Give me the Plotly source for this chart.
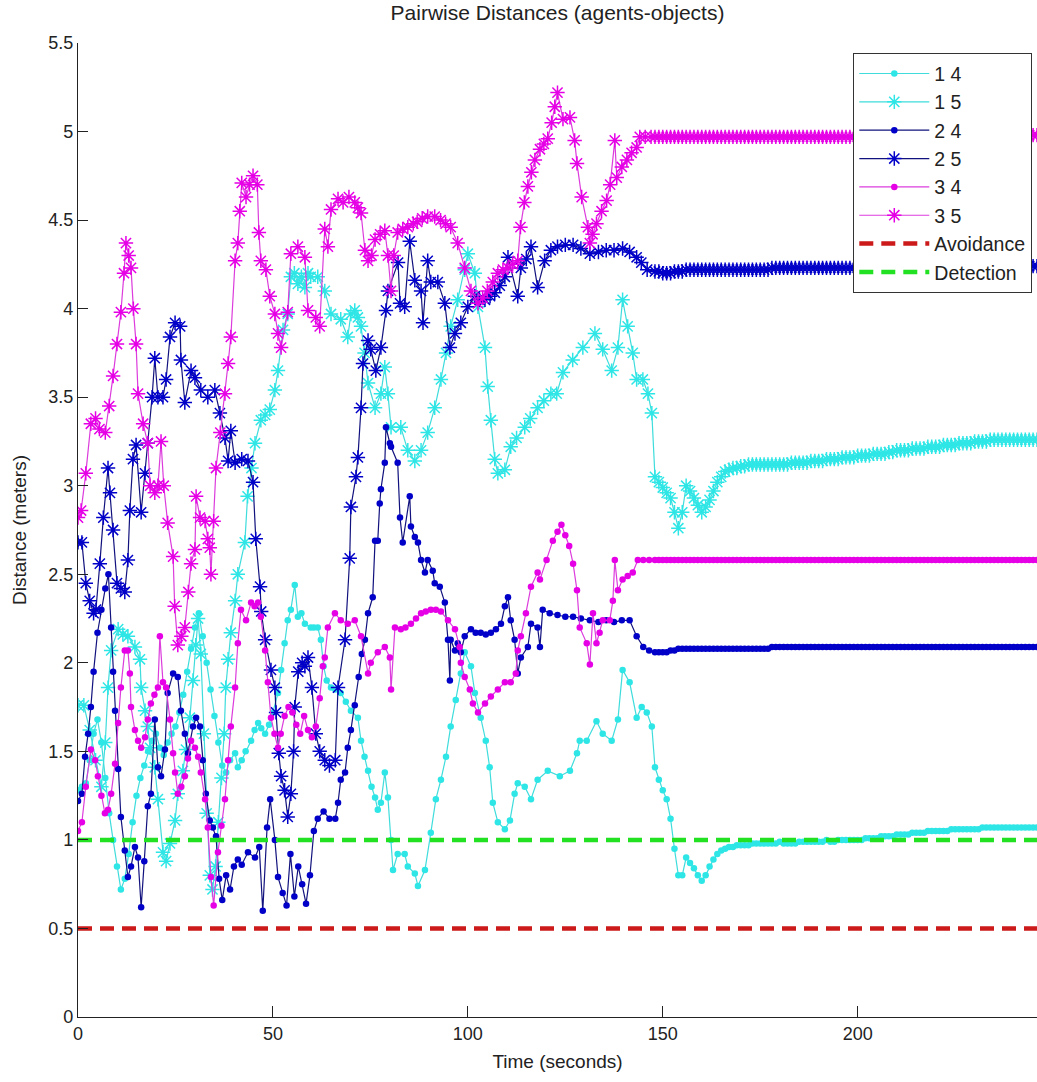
import plotly.graph_objects as go

# ---------------- data ----------------
t14 = [0, 1.0, 2.0, 3.0, 4.0, 5.0, 6.0, 7.0, 8.0, 9.0, 10.0, 11.0, 12.0, 13.0, 14.0, 15.0, 16.0, 17.0, 18.0, 19.0,
       20.0, 21.0, 22.0, 23.0, 24.0, 25.0, 26.0, 27.0, 28.0, 29.0, 30.0, 31.0, 32.0, 33.0, 34.0, 35.0, 36.0, 37.0, 38.0, 39.0,
       40.3, 41.0, 42.0, 43.0, 44.4, 45.3, 46.2, 47.0, 48.0, 49.0, 50.0, 51.3, 52.1, 53.0, 53.8, 54.6, 55.6, 56.4, 57.3, 58.2,
       59.7, 60.5, 61.5, 62.3, 63.0, 63.8, 64.9, 66.0, 67.4, 68.7, 70.0, 71.8, 72.6, 73.5, 74.4, 75.3, 76.2, 76.9, 77.7, 78.7,
       79.5, 80.3, 80.8, 82.0, 83.8, 84.6, 86.4, 87.2, 89.0, 90.5, 91.8, 93.1, 94.4, 95.6, 96.9, 98.2, 99.2, 100.8, 101.8, 103.3,
       104.6, 105.6, 106.4, 107.7, 109.5, 110.8, 112.0, 112.8, 114.6, 116.2, 117.9, 120.5, 123.6, 126.2, 128.0, 128.7, 130.5, 133.0, 134.6, 136.9,
       138.5, 139.7, 141.5, 143.3, 144.6, 145.9, 147.2]
d14 = [1.28, 1.30, 1.32, 1.45, 1.60, 1.68, 1.55, 1.35, 1.15, 1.00, 0.85, 0.72, 0.78, 0.92, 1.10, 1.25, 1.35, 1.42, 1.50, 1.56,
       1.60, 1.52, 1.48, 1.55, 1.60, 1.64, 1.72, 1.82, 1.95, 2.08, 2.20, 2.28, 2.15, 2.00, 1.85, 1.70, 1.55, 1.42, 1.38, 1.45,
       1.49, 1.41, 1.45, 1.50, 1.56, 1.62, 1.66, 1.63, 1.60, 1.65, 1.72, 1.83, 1.96, 2.11, 2.24, 2.30, 2.44, 2.26, 2.28, 2.22,
       2.20, 2.20, 2.20, 2.13, 1.98, 1.90, 1.86, 1.85, 1.83, 1.78, 1.73, 1.69, 1.56, 1.47, 1.39, 1.30, 1.24, 1.17, 1.21, 1.38,
       1.24, 1.00, 0.83, 0.92, 0.92, 0.85, 0.81, 0.74, 0.83, 1.04, 1.23, 1.34, 1.47, 1.64, 1.79, 1.94, 2.06, 1.98, 1.83, 1.69,
       1.56, 1.41, 1.21, 1.10, 1.06, 1.11, 1.26, 1.32, 1.30, 1.23, 1.34, 1.39, 1.36, 1.39, 1.49, 1.56, 1.56, 1.67, 1.60, 1.56,
       1.68, 1.96, 1.89, 1.69, 1.75, 1.72, 1.64]

t15 = [0, 1.5, 3.0, 4.5, 6.0, 7.0, 7.7, 8.5, 10.3, 11.5, 12.8, 14.6, 15.9, 16.2, 17.2, 17.9, 18.5, 19.7, 20.5, 21.8,
       22.6, 23.6, 24.9, 25.6, 26.9, 27.7, 28.7, 29.5, 30.2, 30.8, 31.5, 32.3, 33.0, 33.8, 34.5, 35.3, 36.0, 36.8, 37.5, 37.9,
       38.5, 39.2, 40.3, 41.0, 42.8, 43.5, 44.5, 45.4, 46.9, 48.0, 49.2, 50.5, 51.3, 52.6, 53.8, 54.6, 55.5, 56.4, 57.3, 58.2,
       59.0, 59.7, 61.5, 63.3, 64.9, 67.4, 69.2, 70.0, 71.0, 71.8, 72.6, 73.5, 74.4, 76.2, 77.7, 78.7, 79.5, 80.3, 82.8, 84.6,
       86.4, 88.0, 89.7, 91.5, 93.1, 94.4, 95.6, 97.4, 99.2, 100.0, 101.8, 102.6, 104.4, 105.1, 105.9, 106.9, 107.7, 109.5, 111.0, 112.5,
       114.6, 116.0, 117.9, 119.5, 121.3, 122.8, 124.4, 126.9, 129.5, 132.6, 134.6, 136.9, 138.5, 139.7, 141.0, 142.3, 143.3, 144.9, 146.2, 147.2]
d15 = [1.76, 1.76, 1.62, 1.45, 1.30, 1.55, 1.86, 2.07, 2.19, 2.16, 2.15, 2.09, 2.02, 1.86, 1.73, 1.64, 1.52, 1.41, 1.23, 0.93,
       0.88, 0.98, 1.11, 1.26, 1.39, 1.51, 1.69, 1.90, 2.10, 2.25, 2.05, 1.60, 1.15, 0.80, 0.72, 0.85, 1.10, 1.35, 1.60, 1.86,
       2.02, 2.17, 2.35, 2.50, 2.68, 2.94, 3.10, 3.24, 3.37, 3.40, 3.43, 3.54, 3.65, 3.88, 3.97, 4.18, 4.20, 4.14, 4.18, 4.12,
       4.20, 4.18, 4.18, 4.10, 3.97, 3.94, 3.84, 3.97, 3.99, 3.95, 3.90, 3.75, 3.58, 3.44, 3.52, 3.67, 3.52, 3.33, 3.33, 3.20,
       3.14, 3.20, 3.30, 3.44, 3.60, 3.75, 3.90, 4.05, 4.22, 4.31, 4.20, 4.01, 3.78, 3.56, 3.37, 3.15, 3.07, 3.09, 3.22, 3.27,
       3.33, 3.38, 3.44, 3.48, 3.52, 3.52, 3.64, 3.71, 3.78, 3.86, 3.77, 3.65, 3.78, 4.05, 3.90, 3.75, 3.60, 3.60, 3.52, 3.41]

t24 = [0, 1.0, 1.8, 2.6, 3.3, 4.0, 5.0, 6.0, 7.0, 7.8, 8.5, 9.0, 9.5, 10.3, 11.0, 12.0, 12.8, 13.6, 14.6, 15.4,
       16.2, 17.0, 17.9, 18.7, 19.7, 20.5, 21.3, 22.3, 23.0, 24.4, 25.6, 26.4, 27.4, 28.2, 29.5, 30.3, 31.3, 32.0, 32.8, 33.8,
       34.6, 35.4, 36.2, 37.0, 38.0, 39.0, 40.0, 41.0, 42.0, 43.6, 45.4, 46.5, 47.4, 48.5, 49.3, 50.5, 51.3, 52.5, 53.5, 54.5,
       55.5, 56.5, 57.5, 58.5, 59.5, 60.5, 61.5, 63.0, 64.5, 66.0, 66.7, 67.4, 68.5, 69.2, 70.0, 71.0, 72.0, 72.8, 73.6, 74.4,
       75.6, 76.2, 76.9, 77.4, 77.7, 78.7, 79.0, 80.0, 80.3, 82.0, 82.6, 83.3, 85.1, 85.4, 86.4, 87.2, 88.0, 89.0, 89.7, 91.0,
       91.5, 92.8, 94.1, 94.9, 95.4, 95.6, 96.7, 97.4, 98.2, 99.2, 100.8, 102.0, 103.3, 104.6, 105.9, 107.2, 108.5, 109.5, 110.3, 111.0,
       112.0, 112.8, 113.6, 115.4, 116.2, 117.9, 118.5, 119.2, 121.0, 123.0, 125.0, 127.0, 129.0, 131.3, 133.5, 135.5, 137.5, 139.5, 141.5, 143.3,
       145.0, 146.5]
d24 = [1.22, 1.26, 1.47, 1.60, 1.75, 1.95, 2.17, 2.30, 2.42, 2.50, 2.20, 1.95, 1.73, 1.40, 1.13, 0.94, 0.79, 0.85, 0.96, 0.90,
       0.62, 0.88, 1.19, 1.26, 1.68, 1.41, 1.36, 1.51, 1.83, 1.94, 1.92, 1.73, 1.60, 1.49, 1.64, 1.69, 1.64, 1.45, 1.26, 1.11,
       1.07, 1.02, 0.78, 0.66, 0.80, 0.72, 0.85, 0.89, 0.86, 0.93, 0.90, 0.96, 0.60, 1.07, 1.23, 1.00, 0.79, 0.70, 0.63, 0.92,
       0.68, 0.85, 0.75, 0.64, 0.80, 1.05, 1.12, 1.16, 1.12, 1.12, 1.21, 1.34, 1.38, 1.52, 1.62, 1.76, 1.92, 2.05, 2.13, 2.28,
       2.37, 2.69, 2.69, 2.90, 2.98, 3.13, 3.33, 3.24, 3.22, 3.13, 2.82, 2.68, 2.94, 2.77, 2.71, 2.68, 2.58, 2.51, 2.58, 2.52,
       2.45, 2.43, 2.34, 2.13, 1.90, 2.13, 2.07, 2.11, 2.06, 2.15, 2.19, 2.17, 2.17, 2.16, 2.17, 2.19, 2.22, 2.32, 2.37, 2.24,
       2.13, 1.94, 2.03, 2.09, 2.22, 2.20, 2.09, 2.30, 2.28, 2.27, 2.26, 2.26, 2.25, 2.24, 2.23, 2.24, 2.23, 2.24, 2.24, 2.15,
       2.09, 2.07]

t25 = [0, 1.0, 2.0, 3.0, 4.0, 4.6, 5.6, 6.5, 7.7, 8.2, 9.0, 10.0, 11.0, 12.0, 12.8, 13.3, 14.1, 14.9, 16.2, 17.2,
       17.9, 19.0, 19.7, 20.5, 21.8, 22.6, 23.6, 24.9, 26.2, 26.4, 27.4, 29.0, 30.0, 31.5, 33.3, 35.1, 36.4, 37.7, 38.5, 39.2,
       40.3, 42.0, 43.6, 44.9, 45.6, 46.7, 47.0, 48.0, 49.5, 50.5, 50.8, 51.5, 52.1, 53.0, 53.8, 54.6, 55.3, 55.6, 56.5, 57.5,
       58.2, 59.0, 60.0, 61.0, 62.0, 63.3, 64.5, 66.0, 66.7, 68.5, 69.7, 70.0, 71.3, 71.8, 72.6, 73.1, 74.4, 75.1, 76.4, 77.7,
       79.0, 79.5, 82.1, 82.6, 83.8, 85.1, 86.4, 88.0, 88.5, 89.7, 90.5, 92.3, 94.1, 95.4, 96.7, 98.2, 100.0, 101.8, 103.0, 104.4,
       105.7, 106.9, 108.2, 109.5, 110.3, 112.8, 113.6, 115.0, 116.2, 117.9, 119.7, 121.3, 123.0, 125.0, 127.0, 129.0, 131.3, 133.5, 135.5, 137.5,
       139.7, 141.5, 143.3, 144.5, 146.0]
d25 = [2.68, 2.68, 2.45, 2.35, 2.28, 2.30, 2.56, 2.82, 3.10, 2.96, 2.75, 2.45, 2.42, 2.40, 2.58, 2.86, 3.15, 3.23, 2.85, 3.07,
       3.24, 3.50, 3.72, 3.50, 3.50, 3.60, 3.84, 3.92, 3.90, 3.71, 3.47, 3.65, 3.61, 3.54, 3.50, 3.54, 3.41, 3.27, 3.14, 3.31,
       3.13, 3.15, 3.14, 3.02, 2.70, 2.43, 2.29, 2.13, 1.96, 1.86, 1.72, 1.49, 1.36, 1.28, 1.13, 1.26, 1.50, 1.75, 1.95, 2.00,
       1.98, 2.03, 1.86, 1.60, 1.50, 1.45, 1.42, 1.45, 1.86, 2.13, 2.59, 2.88, 3.05, 3.16, 3.44, 3.69, 3.82, 3.77, 3.65, 3.78,
       3.99, 4.10, 4.26, 4.03, 4.01, 4.38, 4.16, 4.10, 3.92, 4.27, 4.15, 4.15, 4.03, 3.78, 3.86, 3.92, 4.01, 4.07, 4.05, 4.05,
       4.07, 4.09, 4.13, 4.18, 4.29, 4.07, 4.23, 4.28, 4.35, 4.12, 4.27, 4.33, 4.35, 4.36, 4.36, 4.34, 4.31, 4.32, 4.33, 4.33,
       4.34, 4.32, 4.29, 4.26, 4.22]

t34 = [0, 1.0, 2.0, 3.3, 4.4, 5.1, 6.0, 6.9, 7.7, 8.5, 9.5, 10.3, 11.0, 12.0, 12.8, 13.3, 13.6, 14.6, 15.4, 16.2,
       17.2, 17.9, 18.7, 19.6, 20.5, 21.0, 21.8, 22.6, 23.6, 24.4, 24.9, 25.6, 26.5, 27.4, 28.2, 29.0, 30.0, 30.8, 31.5, 32.6,
       33.3, 34.1, 34.8, 35.9, 36.8, 37.7, 38.5, 39.2, 40.3, 41.0, 41.8, 43.1, 44.4, 45.3, 46.2, 46.9, 48.0, 48.7, 49.5, 50.4,
       51.3, 52.0, 53.0, 54.0, 55.0, 56.0, 57.0, 58.0, 59.0, 60.0, 61.0, 62.0, 62.8, 63.3, 64.1, 65.9, 67.4, 69.2, 71.0, 72.6,
       74.4, 75.1, 76.9, 78.7, 80.0, 80.3, 81.3, 82.8, 84.0, 85.4, 86.7, 88.0, 89.2, 90.5, 91.8, 93.1, 94.9, 96.7, 97.9, 98.2,
       99.2, 100.5, 101.3, 102.6, 104.4, 105.9, 107.7, 109.5, 111.0, 112.3, 112.8, 113.6, 114.9, 116.2, 117.9, 118.5, 120.2, 121.8, 123.0, 124.0,
       125.0, 126.0, 127.0, 128.0, 128.7, 130.5, 131.3, 132.1, 133.0, 133.8, 134.6, 136.4, 137.2, 137.7, 138.5, 139.7, 141.0, 142.3, 143.6, 145.0,
       146.5]
d34 = [1.05, 1.10, 1.30, 1.51, 1.45, 1.36, 1.25, 1.15, 1.17, 1.26, 1.43, 1.66, 1.86, 2.07, 2.07, 1.94, 1.75, 1.62, 1.56, 1.52,
       1.58, 1.68, 1.77, 1.82, 1.86, 2.15, 1.89, 1.86, 1.68, 1.49, 1.38, 1.26, 1.30, 1.36, 1.46, 1.56, 1.52, 1.47, 1.38, 1.23,
       1.07, 0.79, 0.63, 0.93, 1.08, 1.23, 1.45, 1.64, 1.86, 2.11, 2.30, 2.24, 2.34, 2.32, 2.34, 2.26, 2.07, 1.89, 1.69, 1.60,
       1.52, 1.60, 1.70, 1.75, 1.72, 1.65, 1.60, 1.70, 1.62, 1.58, 1.64, 1.80, 1.98, 2.03, 2.20, 2.28, 2.24, 2.22, 2.24, 2.15,
       1.94, 2.00, 2.06, 2.09, 2.03, 1.85, 2.20, 2.19, 2.20, 2.22, 2.25, 2.28, 2.29, 2.30, 2.30, 2.29, 2.24, 2.19, 2.09, 2.00,
       1.92, 1.85, 1.77, 1.72, 1.77, 1.81, 1.85, 1.89, 1.89, 1.94, 2.07, 2.15, 2.28, 2.43, 2.51, 2.47, 2.58, 2.69, 2.74, 2.78,
       2.72, 2.66, 2.56, 2.41, 2.20, 2.11, 1.99, 2.28, 2.11, 2.17, 2.24, 2.24, 2.35, 2.58, 2.41, 2.47, 2.49, 2.51, 2.58, 2.58,
       2.58]

t35 = [0, 0.8, 2.0, 3.3, 4.5, 5.5, 7.0, 8.0, 9.0, 10.0, 11.0, 11.8, 12.3, 13.0, 13.6, 14.2, 14.9, 15.4, 16.7, 17.9,
       18.5, 19.7, 20.5, 21.3, 22.0, 23.0, 24.4, 24.8, 25.6, 26.5, 27.4, 28.3, 29.0, 30.0, 30.3, 31.3, 32.6, 33.3, 33.8, 34.1,
       34.8, 35.4, 36.5, 37.7, 38.5, 39.2, 40.3, 41.0, 41.5, 42.0, 43.1, 44.0, 44.9, 46.0, 46.4, 46.9, 48.2, 49.2, 50.5, 51.3,
       52.1, 53.8, 54.6, 56.4, 58.2, 59.0, 61.0, 62.0, 63.3, 64.1, 64.9, 66.7, 68.0, 69.5, 71.0, 71.8, 72.6, 73.6, 74.4, 75.3,
       76.2, 77.5, 78.7, 79.5, 80.3, 81.0, 82.0, 83.3, 84.6, 86.0, 87.0, 88.3, 89.7, 91.5, 93.0, 94.3, 95.6, 97.4, 99.2, 100.8,
       102.6, 103.8, 105.0, 106.4, 107.7, 109.0, 110.3, 111.5, 112.8, 113.5, 114.5, 115.4, 116.3, 117.2, 118.5, 119.5, 120.5, 121.5, 122.3, 123.0,
       124.4, 126.2, 127.4, 128.0, 129.2, 130.8, 131.3, 132.0, 133.0, 134.3, 135.6, 136.5, 137.7, 138.2, 139.5, 140.8, 142.0, 143.3, 144.1, 145.5,
       147.0]
d35 = [2.82, 2.86, 3.07, 3.35, 3.38, 3.32, 3.30, 3.45, 3.62, 3.80, 3.98, 4.20, 4.37, 4.30, 4.23, 4.00, 3.80, 3.52, 3.35, 3.24,
       3.00, 2.96, 3.00, 3.25, 3.00, 2.79, 2.60, 2.32, 2.10, 2.15, 2.20, 2.40, 2.56, 2.64, 2.94, 2.82, 2.80, 2.70, 2.65, 2.50,
       2.80, 3.10, 3.30, 3.52, 3.69, 3.84, 4.27, 4.37, 4.55, 4.71, 4.63, 4.70, 4.75, 4.70, 4.43, 4.27, 4.22, 4.07, 3.97, 3.86,
       3.78, 3.98, 4.31, 4.35, 4.29, 3.99, 3.95, 3.90, 4.45, 4.35, 4.56, 4.62, 4.60, 4.63, 4.60, 4.57, 4.54, 4.33, 4.27, 4.30,
       4.39, 4.42, 4.44, 4.30, 4.10, 4.30, 4.43, 4.45, 4.46, 4.48, 4.49, 4.51, 4.52, 4.52, 4.50, 4.48, 4.46, 4.37, 4.23, 4.10,
       4.03, 4.06, 4.10, 4.15, 4.20, 4.22, 4.23, 4.25, 4.27, 4.46, 4.60, 4.69, 4.77, 4.84, 4.90, 4.93, 4.96, 5.05, 5.14, 5.22,
       5.07, 5.08, 4.95, 4.82, 4.63, 4.46, 4.37, 4.42, 4.48, 4.55, 4.61, 4.70, 4.95, 4.74, 4.80, 4.84, 4.88, 4.91, 4.97, 4.97,
       4.97]

# settled part: one sample per second from 148 s to 246 s
t_tail = [148, 149, 150, 151, 152, 153, 154, 155, 156, 157, 158, 159, 160, 161, 162, 163, 164, 165, 166, 167,
          168, 169, 170, 171, 172, 173, 174, 175, 176, 177, 178, 179, 180, 181, 182, 183, 184, 185, 186, 187,
          188, 189, 190, 191, 192, 193, 194, 195, 196, 197, 198, 199, 200, 201, 202, 203, 204, 205, 206, 207,
          208, 209, 210, 211, 212, 213, 214, 215, 216, 217, 218, 219, 220, 221, 222, 223, 224, 225, 226, 227,
          228, 229, 230, 231, 232, 233, 234, 235, 236, 237, 238, 239, 240, 241, 242, 243, 244, 245, 246]
d14_tail = [1.41, 1.34, 1.28, 1.23, 1.12, 0.95, 0.80, 0.80, 0.90, 0.87,
            0.84, 0.80, 0.77, 0.80, 0.85, 0.89, 0.92, 0.94, 0.95, 0.96,
            0.96, 0.97, 0.97, 0.97, 0.97, 0.98, 0.98, 0.98, 0.98, 0.98,
            0.98, 0.98, 0.99, 0.98, 0.98, 0.98, 0.98, 0.99, 0.99, 0.99,
            0.99, 0.99, 0.99, 0.99, 1.00, 0.99, 0.99, 1.00, 1.00, 1.00,
            1.00, 1.00, 1.00, 1.00, 1.01, 1.01, 1.01, 1.01, 1.02, 1.02,
            1.02, 1.02, 1.03, 1.03, 1.03, 1.03, 1.04, 1.04, 1.04, 1.04,
            1.05, 1.05, 1.05, 1.05, 1.05, 1.05, 1.06, 1.06, 1.06, 1.06,
            1.06, 1.06, 1.06, 1.06, 1.07, 1.07, 1.07, 1.07, 1.07, 1.07,
            1.07, 1.07, 1.07, 1.07, 1.07, 1.07, 1.07, 1.07, 1.07]
d15_tail = [3.05, 3.02, 2.99, 2.96, 2.93, 2.85, 2.76, 2.85, 3.00, 2.97,
            2.93, 2.89, 2.85, 2.88, 2.92, 2.97, 3.02, 3.05, 3.08, 3.09,
            3.10, 3.10, 3.11, 3.11, 3.12, 3.12, 3.12, 3.12, 3.12, 3.12,
            3.12, 3.12, 3.12, 3.12, 3.12, 3.13, 3.13, 3.13, 3.13, 3.13,
            3.14, 3.14, 3.14, 3.14, 3.15, 3.15, 3.15, 3.15, 3.16, 3.16,
            3.16, 3.16, 3.17, 3.17, 3.17, 3.17, 3.18, 3.18, 3.18, 3.18,
            3.19, 3.19, 3.20, 3.20, 3.20, 3.20, 3.21, 3.21, 3.21, 3.21,
            3.22, 3.22, 3.22, 3.22, 3.23, 3.23, 3.23, 3.23, 3.24, 3.24,
            3.24, 3.24, 3.25, 3.25, 3.25, 3.25, 3.26, 3.26, 3.26, 3.26,
            3.26, 3.26, 3.26, 3.26, 3.26, 3.26, 3.26, 3.26, 3.26]
d24_tail = [2.06, 2.06, 2.06, 2.06, 2.07, 2.07, 2.08, 2.08, 2.08, 2.08,
            2.08, 2.08, 2.08, 2.08, 2.08, 2.08, 2.08, 2.08, 2.08, 2.08,
            2.08, 2.08, 2.08, 2.08, 2.08, 2.08, 2.08, 2.08, 2.08, 2.08,
            2.09, 2.09, 2.09, 2.09, 2.09, 2.09, 2.09, 2.09, 2.09, 2.09,
            2.09, 2.09, 2.09, 2.09, 2.09, 2.09, 2.09, 2.09, 2.09, 2.09,
            2.09, 2.09, 2.09, 2.09, 2.09, 2.09, 2.09, 2.09, 2.09, 2.09,
            2.09, 2.09, 2.09, 2.09, 2.09, 2.09, 2.09, 2.09, 2.09, 2.09,
            2.09, 2.09, 2.09, 2.09, 2.09, 2.09, 2.09, 2.09, 2.09, 2.09,
            2.09, 2.09, 2.09, 2.09, 2.09, 2.09, 2.09, 2.09, 2.09, 2.09,
            2.09, 2.09, 2.09, 2.09, 2.09, 2.09, 2.09, 2.09, 2.09]
d25_tail = [4.21, 4.21, 4.20, 4.20, 4.20, 4.21, 4.21, 4.21, 4.22, 4.22,
            4.22, 4.22, 4.22, 4.22, 4.22, 4.22, 4.22, 4.22, 4.22, 4.22,
            4.22, 4.22, 4.22, 4.22, 4.22, 4.22, 4.22, 4.22, 4.22, 4.22,
            4.23, 4.23, 4.23, 4.23, 4.23, 4.23, 4.23, 4.23, 4.23, 4.23,
            4.23, 4.23, 4.23, 4.23, 4.23, 4.23, 4.23, 4.23, 4.23, 4.23,
            4.23, 4.23, 4.23, 4.23, 4.23, 4.23, 4.23, 4.23, 4.23, 4.23,
            4.23, 4.23, 4.23, 4.23, 4.23, 4.23, 4.23, 4.23, 4.24, 4.24,
            4.24, 4.24, 4.24, 4.24, 4.24, 4.24, 4.24, 4.24, 4.24, 4.24,
            4.24, 4.24, 4.24, 4.24, 4.24, 4.24, 4.24, 4.24, 4.24, 4.24,
            4.24, 4.24, 4.24, 4.24, 4.24, 4.24, 4.24, 4.24, 4.24]
d34_tail = [2.58, 2.58, 2.58, 2.58, 2.58, 2.58, 2.58, 2.58, 2.58, 2.58,
            2.58, 2.58, 2.58, 2.58, 2.58, 2.58, 2.58, 2.58, 2.58, 2.58,
            2.58, 2.58, 2.58, 2.58, 2.58, 2.58, 2.58, 2.58, 2.58, 2.58,
            2.58, 2.58, 2.58, 2.58, 2.58, 2.58, 2.58, 2.58, 2.58, 2.58,
            2.58, 2.58, 2.58, 2.58, 2.58, 2.58, 2.58, 2.58, 2.58, 2.58,
            2.58, 2.58, 2.58, 2.58, 2.58, 2.58, 2.58, 2.58, 2.58, 2.58,
            2.58, 2.58, 2.58, 2.58, 2.58, 2.58, 2.58, 2.58, 2.58, 2.58,
            2.58, 2.58, 2.58, 2.58, 2.58, 2.58, 2.58, 2.58, 2.58, 2.58,
            2.58, 2.58, 2.58, 2.58, 2.58, 2.58, 2.58, 2.58, 2.58, 2.58,
            2.58, 2.58, 2.58, 2.58, 2.58, 2.58, 2.58, 2.58, 2.58]
d35_tail = [4.97, 4.97, 4.97, 4.97, 4.97, 4.97, 4.97, 4.97, 4.97, 4.97,
            4.97, 4.97, 4.97, 4.97, 4.97, 4.97, 4.97, 4.97, 4.97, 4.97,
            4.97, 4.97, 4.97, 4.97, 4.97, 4.97, 4.97, 4.97, 4.97, 4.97,
            4.97, 4.97, 4.97, 4.97, 4.97, 4.97, 4.97, 4.97, 4.97, 4.97,
            4.97, 4.97, 4.97, 4.97, 4.97, 4.97, 4.97, 4.97, 4.97, 4.97,
            4.97, 4.97, 4.97, 4.97, 4.97, 4.97, 4.97, 4.97, 4.97, 4.98,
            4.98, 4.98, 4.98, 4.98, 4.98, 4.98, 4.98, 4.98, 4.98, 4.98,
            4.98, 4.98, 4.98, 4.98, 4.98, 4.98, 4.98, 4.98, 4.98, 4.98,
            4.98, 4.98, 4.98, 4.98, 4.98, 4.98, 4.98, 4.98, 4.98, 4.98,
            4.98, 4.98, 4.98, 4.98, 4.98, 4.98, 4.98, 4.98, 4.98]

threshold_t = [0, 246]
avoidance = [0.5, 0.5]
detection = [1.0, 1.0]

series_names = ["1 4", "1 5", "2 4", "2 5", "3 4", "3 5"]
x_ticks = [0, 50, 100, 150, 200]
y_ticks = [0, 0.5, 1, 1.5, 2, 2.5, 3, 3.5, 4, 4.5, 5, 5.5]

# ---------------- styling ----------------
CYAN_LINE, CYAN_MK = "#3fdcdc", "#2ee6e6"
NAVY_LINE, NAVY_MK = "#12127e", "#0000c8"
MAG_LINE, MAG_MK = "#dc3cdc", "#e600e6"

series = [
    (t14, d14, d14_tail, CYAN_LINE, CYAN_MK, "dot"),
    (t15, d15, d15_tail, CYAN_LINE, CYAN_MK, "star"),
    (t24, d24, d24_tail, NAVY_LINE, NAVY_MK, "dot"),
    (t25, d25, d25_tail, NAVY_LINE, NAVY_MK, "star"),
    (t34, d34, d34_tail, MAG_LINE, MAG_MK, "dot"),
    (t35, d35, d35_tail, MAG_LINE, MAG_MK, "star"),
]

fig = go.Figure()
for name, (tt, dd, tail, lc, mc, kind) in zip(series_names, series):
    if kind == "dot":
        marker = dict(symbol="circle", size=6.5, color=mc, line=dict(width=0))
    else:
        marker = dict(symbol="asterisk-open", size=12, color=mc, line=dict(width=1.5, color=mc))
    fig.add_trace(go.Scatter(
        x=list(tt) + list(t_tail), y=list(dd) + list(tail),
        mode="lines+markers", name=name,
        line=dict(color=lc, width=1.2), marker=marker,
    ))

fig.add_trace(go.Scatter(x=threshold_t, y=avoidance, mode="lines", name="Avoidance",
                         line=dict(color="#cc1a1a", width=4.5, dash="14px,8px")))
fig.add_trace(go.Scatter(x=threshold_t, y=detection, mode="lines", name="Detection",
                         line=dict(color="#22e022", width=4.5, dash="14px,8px")))

FONT = "Arial, Liberation Sans, sans-serif"
fig.update_layout(
    width=1037, height=1082,
    margin=dict(l=78, r=0, t=43, b=65),
    paper_bgcolor="white", plot_bgcolor="white",
    font=dict(family=FONT, size=18, color="#222222"),
    title=dict(text="Pairwise Distances (agents-objects)", x=0.5, xref="paper",
               y=1 - 13 / 1082, yref="container", yanchor="middle",
               font=dict(family=FONT, size=21, color="#222222")),
    showlegend=True,
    legend=dict(x=(853 - 78) / 959, y=(1017 - 53) / 974, xanchor="left", yanchor="top",
                bgcolor="white", bordercolor="#333333", borderwidth=1.3,
                font=dict(family=FONT, size=19.5, color="#222222"),
                itemwidth=70, tracegroupgap=0),
)
fig.update_xaxes(range=[0, 246], tickmode="array", tickvals=x_ticks,
                 ticks="inside", ticklen=11, tickwidth=1.3, tickcolor="#222222",
                 showline=True, linecolor="#222222", linewidth=1.3, mirror=False,
                 showgrid=False, zeroline=False,
                 title=dict(text="Time (seconds)", standoff=11, font=dict(size=19)))
fig.update_yaxes(range=[0, 5.5], tickmode="array", tickvals=y_ticks,
                 ticks="inside", ticklen=10, tickwidth=1.3, tickcolor="#222222",
                 showline=True, linecolor="#222222", linewidth=1.3, mirror=False,
                 showgrid=False, zeroline=False,
                 title=dict(text="Distance (meters)", standoff=16, font=dict(size=19)))

fig.write_html("out.html")
